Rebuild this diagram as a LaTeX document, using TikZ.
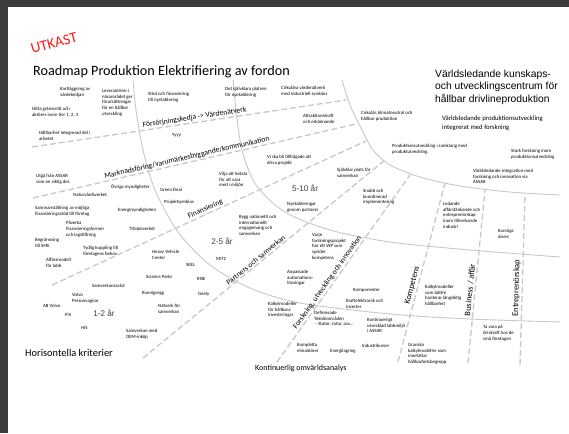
\documentclass[tikz,border=0pt]{standalone}
\usepackage{fontspec}
\setmainfont{Carlito}
\newfontfamily\arialfont{Liberation Sans}
\definecolor{framegray}{HTML}{3C3C3C}
\definecolor{linegray}{HTML}{C8C8C8}
\definecolor{yeargray}{HTML}{404040}
\definecolor{draftred}{HTML}{FF1A1A}
\tikzset{
  note/.style={font=\fontsize{4.8}{5.7}\selectfont, align=left, anchor=north west, inner sep=0pt},
  bandlabel/.style={font=\fontsize{7.6}{9}\selectfont, sloped, above, inner sep=1pt},
  spokelabel/.style={font=\fontsize{8.4}{10}\selectfont, sloped, above, inner sep=1.5pt},
  yearlabel/.style={font=\arialfont\fontsize{8.2}{10}\selectfont, text=yeargray, inner sep=0pt},
  zone/.style={draw=linegray, line width=0.9pt},
  band/.style={draw=linegray, line width=1.3pt, dash pattern=on 6pt off 3pt},
}
\begin{document}
\begin{tikzpicture}[x=1pt,y=-1pt]
    \fill[framegray] (0,0) rectangle (569,433);
    \fill[white] (8,7) rectangle (569,433);
    \useasboundingbox (0,0) rectangle (569,433);

    \node [text=draftred, font=\fontsize{15}{18}\selectfont, rotate=15, inner sep=0pt] (draft) at (54,43) {UTKAST};
    \node [font=\fontsize{14.2}{17}\selectfont, anchor=base west, inner sep=0pt] (title) at (33,76) {Roadmap Produktion Elektrifiering av fordon};
    \node [font=\arialfont\fontsize{10.3}{12.3}\selectfont, align=left, anchor=north west, inner sep=0pt] (vision) at (435,70) {Världsledande kunskaps-\\och utvecklingscentrum för\\hållbar drivlineproduktion};
    \node [font=\fontsize{6.7}{8.2}\selectfont, align=left, anchor=north west, inner sep=0pt] (subvision) at (442,116) {Världsledande produktionsutveckling\\integrerat med forskning};
    \node [font=\fontsize{10.4}{12}\selectfont, anchor=base west, inner sep=0pt] (horizontal) at (25,356) {Horisontella kriterier};
    \node [font=\fontsize{8}{10}\selectfont, anchor=base west, inner sep=0pt] (scan) at (255,370) {Kontinuerlig omvärldsanalys};

    \draw[zone] plot[smooth] coordinates {(133,80) (136,110) (143,150) (155,190) (178,232) (210,265) (250,288) (300,303) (390,314) (470,319) (560,322)};
    \draw[zone] plot[smooth] coordinates {(233,80) (236,110) (242,150) (256,185) (285,212) (330,230) (390,242) (470,250) (560,257)};
    \draw[zone] plot[smooth] coordinates {(342,80) (350,105) (362,130) (373,150) (390,165) (420,177) (460,186) (510,192) (560,195)};

    \coordinate (supplyA) at (32,147);
    \coordinate (supplyB) at (346,100);
    \coordinate (marketA) at (33,198);
    \coordinate (marketB) at (356,124);
    \coordinate (financeA) at (52,285);
    \coordinate (financeB) at (366,141);
    \coordinate (partnerA) at (143,358);
    \coordinate (partnerB) at (385,160);
    \coordinate (researchA) at (277,362);
    \coordinate (researchB) at (410,175);
    \coordinate (skillA) at (398,362);
    \coordinate (skillB) at (445,183);
    \coordinate (businessA) at (468,363);
    \coordinate (businessB) at (485,190);
    \coordinate (entreA) at (520,365);
    \coordinate (entreB) at (525,194);

    \draw[band] (supplyA) -- (supplyB) node [bandlabel, pos=0.52] (supply) {Försörjningskedja -> Värdenätverk};
    \draw[band] (marketA) -- (marketB) node [bandlabel, pos=0.48] (market) {Marknadsföring/varumärkesbyggande/kommunikation};
    \draw[band] (financeA) -- (financeB) node [bandlabel, pos=0.495] (finance) {Finansiering};
    \draw[band] (partnerA) -- (partnerB) node [bandlabel, pos=0.477] (partner) {Partners och samverkan};
    \draw[band] (researchA) -- (researchB) node [bandlabel, pos=0.41] (research) {Forskning, utveckling och innovation};
    \draw[band] (skillA) -- (skillB) node [spokelabel, pos=0.42] (skill) {Kompetens};
    \draw[band] (businessA) -- (businessB) node [spokelabel, pos=0.42] (business) {Business / affär};
    \draw[band] (entreA) -- (entreB) node [spokelabel, pos=0.45] (entre) {Entreprenörskap};

    \node [yearlabel] (short) at (104,313) {1-2 år};
    \node [yearlabel] (medium) at (222,241) {2-5 år};
    \node [yearlabel] (long) at (305,188) {5-10 år};

    \node [note] (mapping) at (60,87) {Kartläggning av\\värdekedjan};
    \node [note] (suppliers) at (102,89) {Leverantörer i\\närområdet ger\\förutsättningar\\för en hållbar\\utveckling};
    \node [note] (support) at (148,92) {Stöd och finansiering\\till nyetablering};
    \node [note] (interface) at (32,107) {Hitta gränssnitt och\\aktörer inom tier 1, 2, 3};
    \node [note] (sustain) at (39,131) {Hållbarhet integrerad del i\\arbetet};
    \node [note] (yyyy) at (172,133) {Yyyy};
    \node [note] (obvious) at (225,87) {Det självklara platsen\\för nyetablering};
    \node [note] (circular) at (281,86) {Cirkulära värdenätverk\\med industriell symbios};
    \node [note] (attract) at (303,114) {Attraktionskraft\\och erkännande};
    \node [note] (neutral) at (361,111) {Cirkulär, klimatneutral och\\hållbar produktion};
    \node [note] (assar) at (36,174) {Utgå från ASSAR\\som en viktig del.};
    \node [note] (agencies) at (111,184) {Övriga myndigheter};
    \node [note] (green) at (160,188) {Green Deal};
    \node [note] (nature) at (73,193) {Naturvårdsverket};
    \node [note] (symbios) at (164,200) {Projektsymbios};
    \node [note] (compile) at (35,206) {Sammanställning av möjliga\\finansieringsstöd till företag};
    \node [note] (energy) at (118,208) {Energimyndigheten};
    \node [note] (influence) at (66,221) {Påverka\\finansieringsformer\\och lagstiftning};
    \node [note] (growth) at (129,227) {Tillväxtverket};
    \node [note] (sme) at (35,238) {Begränsning\\till SME};
    \node [note] (link) at (83,246) {Tydlig koppling till\\företagens behov};
    \node [note] (hvc) at (152,250) {Heavy Vehicle\\Center};
    \node [note] (model) at (46,258) {Affärsmodell\\för labb};
    \node [note] (seel) at (186,263) {SEEL};
    \node [note] (parks) at (146,275) {Science Parks};
    \node [note] (contract) at (92,284) {Samverkansavtal};
    \node [note] (volvocars) at (72,293) {Volvo\\Personvagnar};
    \node [note] (koenig) at (142,291) {Koenigsegg};
    \node [note] (volvo) at (43,304) {AB Volvo};
    \node [note] (network) at (158,304) {Nätverk för\\samverkan};
    \node [note] (pis) at (65,313) {PiS};
    \node [note] (his) at (81,326) {HiS};
    \node [note] (oem) at (126,329) {Samverkan med\\OEM-inköp};
    \node [note] (rise) at (197,277) {RISE};
    \node [note] (geely) at (198,292) {Geely};
    \node [note] (mitc) at (216,257) {MITC};
    \node [note] (asked) at (267,155) {Vi ska bli tillfrågade att\\driva projekt};
    \node [note] (pay) at (219,172) {Vilja att betala\\för att vara\\med i miljön};
    \node [note] (place) at (337,168) {Självklar plats för\\samverkan};
    \node [note] (fast) at (363,189) {Snabb och\\koordinerad\\implementering};
    \node [note] (newcomers) at (287,202) {Nyetableringar\\genom partners};
    \node [note] (build) at (239,215) {Bygg nationellt och\\internationellt\\engagemang och\\samverkan};
    \node [note] (project) at (312,233) {Varje\\forskningsprojekt\\har ett WP som\\sprider\\kompetens};
    \node [note] (automation) at (287,270) {Anpassade\\automations-\\lösningar};
    \node [note] (components) at (353,288) {Komponenter};
    \node [note] (power) at (346,299) {Kraftelektronik och\\inverter};
    \node [note] (calc) at (268,302) {Kalkylmodeller\\för hållbara\\investeringar};
    \node [note] (areas) at (314,311) {Definierade\\Teknikområden\\\hspace{1.5pt}- Stator, rotor, osv...};
    \node [note] (lab) at (367,318) {Kontinuerligt\\utvecklad labbmiljö\\i ASSAR};
    \node [note] (machines) at (297,343) {Kompletta\\elmaskiner};
    \node [note] (storage) at (330,349) {Energilagring};
    \node [note] (courses) at (362,344) {Industrikurser};
    \node [note] (longterm) at (425,285) {Kalkylmodeller\\som bättre\\hanterar långsiktig\\hållbarhet};
    \node [note] (drive) at (483,325) {Ta vara på\\drivkraft hos de\\små företagen};
    \node [note] (review) at (408,343) {Granska\\kalkylmodeller som\\innefattar\\hållbarhetsbegrepp};
    \node [note] (harmony) at (392,144) {Produktionsutveckling i samklang med\\produktutveckling.};
    \node [note] (strong) at (511,149) {Stark forskning inom\\produktionsutveckling};
    \node [note] (integration) at (473,169) {Världsledande integration med\\forskning och innovation via\\ASSAR};
    \node [note] (leading) at (443,202) {Ledande\\affärstänkande och\\entreprenörskap\\inom tillverkande\\industri};
    \node [note] (doers) at (498,229) {Kunniga\\doers};
\end{tikzpicture}
\end{document}
